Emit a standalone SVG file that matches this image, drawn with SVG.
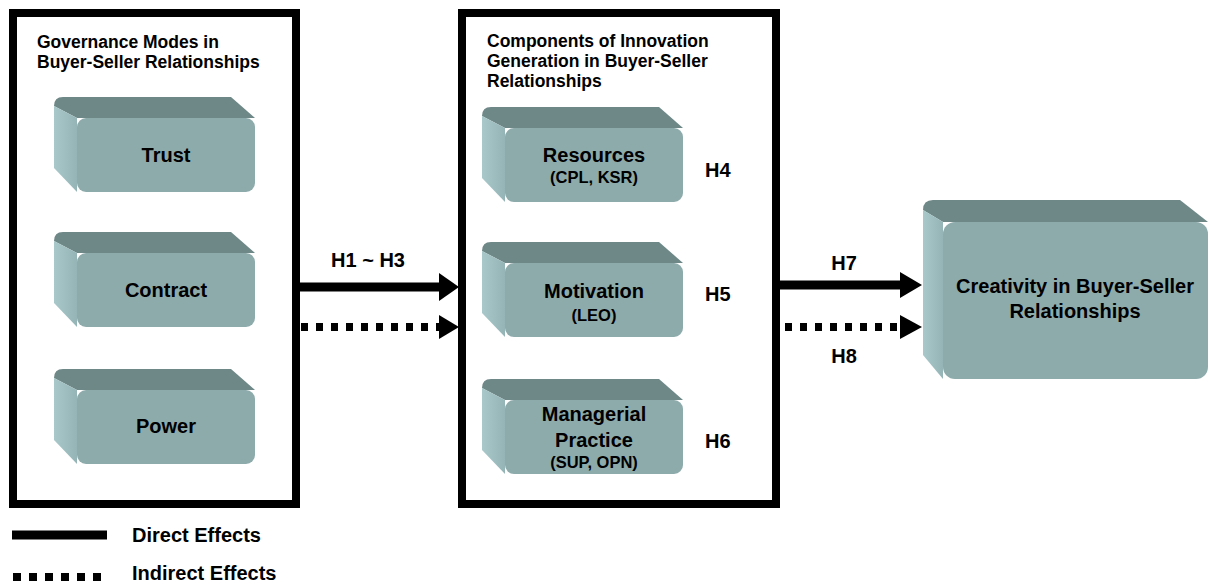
<svg xmlns="http://www.w3.org/2000/svg" width="1210" height="585" viewBox="0 0 1210 585">
<defs>
<linearGradient id="lg" x1="0" y1="0" x2="1" y2="0">
<stop offset="0" stop-color="#a8c8ca"/>
<stop offset="1" stop-color="#94b4b6"/>
</linearGradient>
<g id="box">
<path class="top" d="M-23,-12 Q-23,-21 -14,-21 L154,-21 L178,0 L0,0 Z"/>
<path class="left" d="M-23,-12 L0,0 L0,74 L-23,50 Z"/>
<rect class="front" x="0" y="0" width="178" height="74" rx="9"/>
</g>
</defs>
<style>
.frame{fill:none;stroke:#000;stroke-width:8}
.top{fill:#6e8787}
.left{fill:url(#lg)}
.front{fill:#8eabac}
text{font-family:"Liberation Sans",Arial,sans-serif;font-weight:bold;fill:#000}
.title{font-size:17.5px}
.lbl{font-size:20px;text-anchor:middle}
.sub{font-size:16.5px;text-anchor:middle}
.h{font-size:20px}
.solid{stroke:#000;stroke-width:9;fill:none}
.dot{stroke:#000;stroke-width:8;fill:none;stroke-dasharray:7 8}
.head{fill:#000}
</style>

<g id="governance">
<rect class="frame" x="13" y="13" width="283" height="491"/>
<text class="title" x="37" y="48">Governance Modes in</text>
<text class="title" x="37" y="68">Buyer-Seller Relationships</text>
</g>
<g id="trust">
<use href="#box" transform="translate(77,118)"/>
<text class="lbl" x="166" y="162">Trust</text>
</g>
<g id="contract">
<use href="#box" transform="translate(77,253)"/>
<text class="lbl" x="166" y="297">Contract</text>
</g>
<g id="power">
<use href="#box" transform="translate(77,390)"/>
<text class="lbl" x="166" y="433">Power</text>
</g>

<g id="components">
<rect class="frame" x="462" y="13" width="314" height="491"/>
<text class="title" x="487" y="47">Components of Innovation</text>
<text class="title" x="487" y="67">Generation in Buyer-Seller</text>
<text class="title" x="487" y="87">Relationships</text>
</g>
<g id="resources">
<use href="#box" transform="translate(505,128)"/>
<text class="lbl" x="594" y="162">Resources</text>
<text class="sub" x="594" y="183">(CPL, KSR)</text>
<text class="h" x="705" y="177">H4</text>
</g>
<g id="motivation">
<use href="#box" transform="translate(505,263)"/>
<text class="lbl" x="594" y="298">Motivation</text>
<text class="sub" x="594" y="321">(LEO)</text>
<text class="h" x="705" y="301">H5</text>
</g>
<g id="managerial">
<use href="#box" transform="translate(505,400)"/>
<text class="lbl" x="594" y="421">Managerial</text>
<text class="lbl" x="594" y="447">Practice</text>
<text class="sub" x="594" y="468">(SUP, OPN)</text>
<text class="h" x="705" y="448">H6</text>
</g>

<g id="creativity">
<path class="top" d="M923,210 Q923,200 933,200 L1180,200 L1208,222 L943,222 Z"/>
<path class="left" d="M923,210 L943,222 L943,379 L923,355 Z"/>
<rect class="front" x="943" y="222" width="265" height="157" rx="12"/>
<text class="lbl" x="1075" y="293">Creativity in Buyer-Seller</text>
<text class="lbl" x="1075" y="318">Relationships</text>
</g>

<g id="connectors">
<line class="solid" x1="296" y1="287" x2="441" y2="287"/>
<polygon class="head" points="439,273 459,287 439,301"/>
<line class="dot" x1="301" y1="327" x2="441" y2="327"/>
<polygon class="head" points="439,315 459,327 439,339"/>
<text class="lbl" x="368" y="267">H1 ~ H3</text>
<line class="solid" x1="780" y1="285" x2="902" y2="285"/>
<polygon class="head" points="900,272 922,285 900,298"/>
<line class="dot" x1="785" y1="327" x2="902" y2="327"/>
<polygon class="head" points="900,315 922,327 900,339"/>
<text class="lbl" x="844" y="270">H7</text>
<text class="lbl" x="844" y="363">H8</text>
</g>

<g id="legend">
<line class="solid" x1="12" y1="535" x2="107" y2="535"/>
<text class="h" x="132" y="542">Direct Effects</text>
<line x1="13" y1="577" x2="101" y2="577" stroke="#000" stroke-width="8" stroke-dasharray="8 8"/>
<text class="h" x="132" y="580">Indirect Effects</text>
</g>
</svg>
